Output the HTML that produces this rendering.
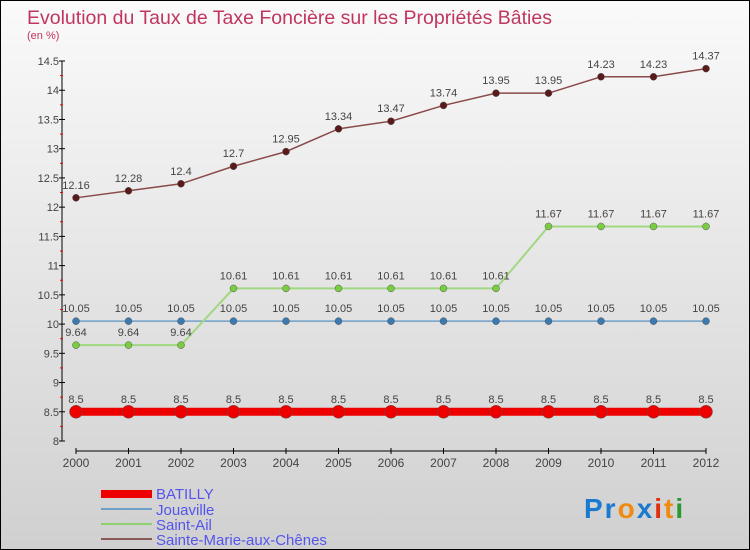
<!DOCTYPE html>
<html><head><meta charset="utf-8"><style>
body{margin:0}
#c{width:748px;height:548px;border:1px solid #000;background:linear-gradient(#fafafa,#d0d0d0);position:relative;font-family:"Liberation Sans",sans-serif;overflow:hidden}
</style></head><body>
<div id="c">
<svg id="s" width="748" height="548" style="position:absolute;left:0;top:0">
<text x="26" y="23" font-size="19.5" fill="#c0365f">Evolution du Taux de Taxe Foncière sur les Propriétés Bâties</text>
<text x="26" y="38" font-size="11" fill="#c0365f">(en %)</text>
<g id="axes"></g><g id="series"></g>
<g>
<rect x="100" y="489" width="51" height="8" fill="#e00"/>
<text x="155" y="498" font-size="15" fill="#5555ee">BATILLY</text>
<rect x="100" y="507" width="51" height="2" fill="#6fa0c8"/>
<text x="155" y="514" font-size="15" fill="#5555ee">Jouaville</text>
<rect x="100" y="522" width="51" height="2" fill="#8ed070"/>
<text x="155" y="529" font-size="15" fill="#5555ee">Saint-Ail</text>
<rect x="100" y="537" width="51" height="2" fill="#8a5a5a"/>
<text x="155" y="544" font-size="15" fill="#5555ee">Sainte-Marie-aux-Chênes</text>
</g>
<text x="583" y="517" font-size="28" font-weight="bold" letter-spacing="2"><tspan fill="#1a7ad0">Pr</tspan><tspan fill="#f08a10">o</tspan><tspan fill="#1a7ad0">x</tspan><tspan fill="#e03010">i</tspan><tspan fill="#f08a10">t</tspan><tspan fill="#2a9a30">i</tspan></text>
</svg>
</div>
<script>
const years=[2000,2001,2002,2003,2004,2005,2006,2007,2008,2009,2010,2011,2012];
const yTicks=[8,8.5,9,9.5,10,10.5,11,11.5,12,12.5,13,13.5,14,14.5];
const batilly=[8.5,8.5,8.5,8.5,8.5,8.5,8.5,8.5,8.5,8.5,8.5,8.5,8.5];
const jouaville=[10.05,10.05,10.05,10.05,10.05,10.05,10.05,10.05,10.05,10.05,10.05,10.05,10.05];
const saintAil=[9.64,9.64,9.64,10.61,10.61,10.61,10.61,10.61,10.61,11.67,11.67,11.67,11.67];
const sainteMarie=[12.16,12.28,12.4,12.7,12.95,13.34,13.47,13.74,13.95,13.95,14.23,14.23,14.37];
const NS='http://www.w3.org/2000/svg';
const xs=i=>75+i*52.5;
const ys=v=>440-(v-8)*58.46;
function mk(p,t,a){const e=document.createElementNS(NS,t);for(const k in a)e.setAttribute(k,a[k]);p.appendChild(e);return e;}
const ax=document.getElementById('axes');
let l=mk(ax,'line',{x1:61,y1:ys(14.5),x2:61,y2:440,stroke:'#000'});


l=mk(ax,'line',{x1:75,y1:450,x2:705,y2:450,stroke:'#000'});


yTicks.forEach((v,i)=>{
  mk(ax,'line',{x1:58,y1:ys(v),x2:64,y2:ys(v),stroke:'#000'});
  if(i<yTicks.length-1)mk(ax,'line',{x1:59,y1:ys(v+0.25),x2:62,y2:ys(v+0.25),stroke:'#e00'});
  const t=mk(ax,'text',{x:58,y:ys(v)+4,'font-size':11,'text-anchor':'end',fill:'#444'});
  t.textContent=String(v);
  
  
});
years.forEach((y,i)=>{
  mk(ax,'line',{x1:xs(i),y1:447,x2:xs(i),y2:453,stroke:'#000'});
  const t=mk(ax,'text',{x:xs(i),y:466,'font-size':12,'text-anchor':'middle',fill:'#444'});
  t.textContent=String(y);
  
  
});
const sg=document.getElementById('series');
function draw(vals,name,color,w,r,dot){
  const g=mk(sg,'g',{});
  
  
  mk(g,'polyline',{points:vals.map((v,i)=>xs(i)+','+ys(v)).join(' '),fill:'none',stroke:color,'stroke-width':w});
  vals.forEach((v,i)=>{
    const c=mk(g,'circle',{cx:xs(i),cy:ys(v),r:r,fill:dot,stroke:'#555','stroke-width':0.5});
    
    
    const t=mk(g,'text',{x:xs(i),y:ys(v)-9,'font-size':11,'text-anchor':'middle',fill:'#444'});
    t.textContent=String(v);
    
    
  });
}
draw(jouaville,'jouaville','#6fa0c8',1.5,3.5,'#3a7ab0');
draw(saintAil,'saint-ail','#a0d880',2,3.5,'#7acc40');
draw(sainteMarie,'sainte-marie','#8a4a4a',1.5,3.5,'#5a1a1a');
draw(batilly,'batilly','#ee0000',8,6.5,'#e00');
</script>
</body></html>
